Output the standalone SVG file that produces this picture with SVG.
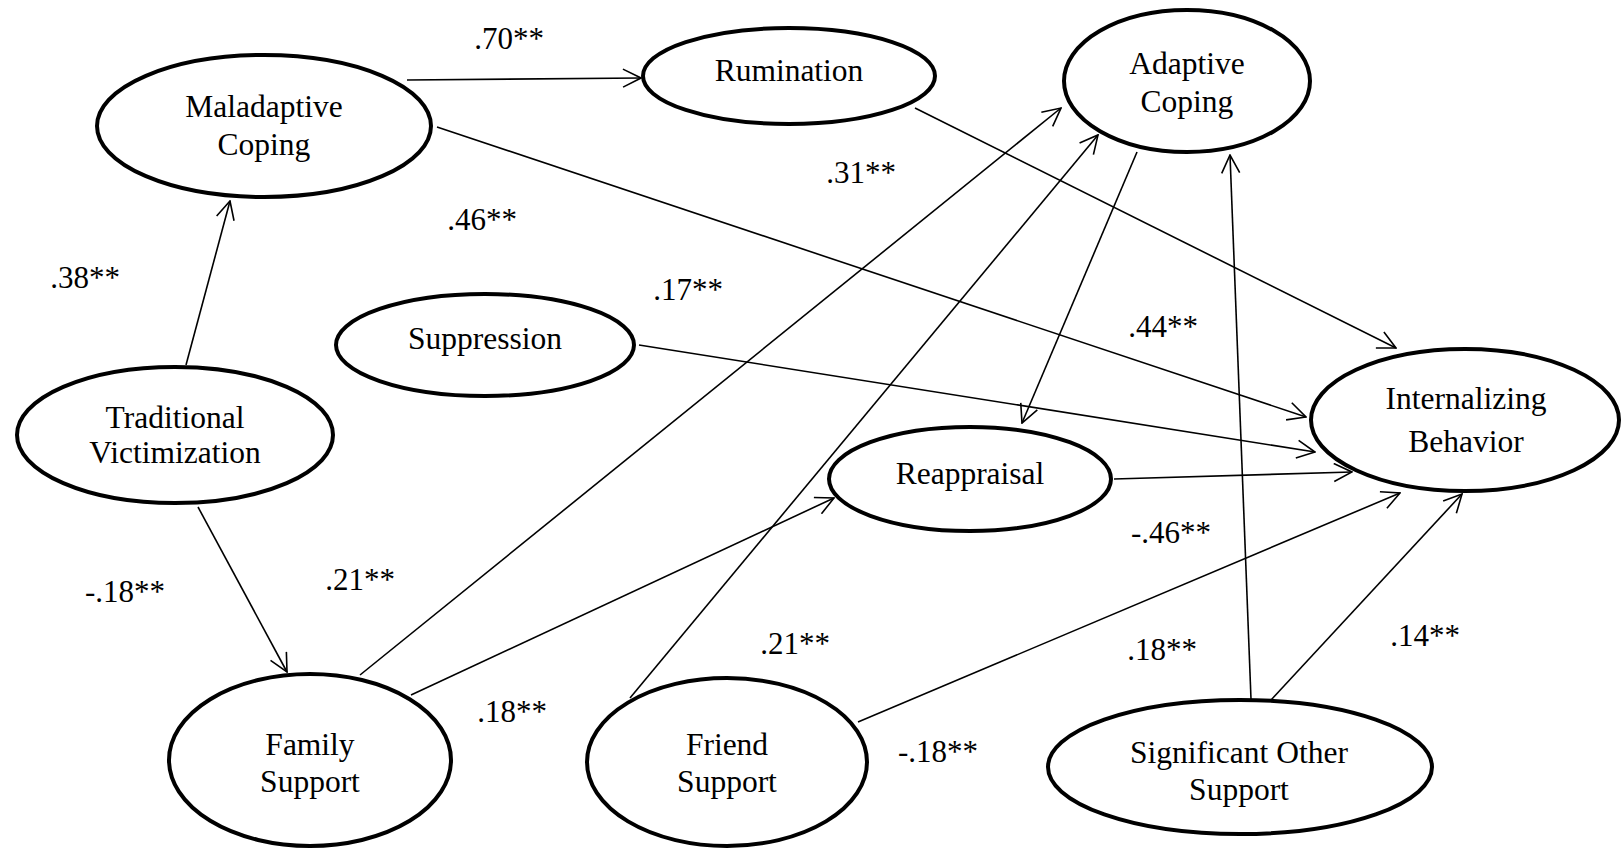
<svg xmlns="http://www.w3.org/2000/svg" width="1624" height="850" viewBox="0 0 1624 850">
  <style>
    .node { fill: #ffffff; stroke: #000000; stroke-width: 4; }
    .name { font-family: "Liberation Serif", "Times New Roman", serif; font-size: 31.5px; fill: #000000; text-anchor: middle; }
    .coef { font-family: "Liberation Serif", "Times New Roman", serif; font-size: 31px; fill: #000000; text-anchor: middle; }
    .path { stroke: #000000; stroke-width: 1.6; fill: none; marker-end: url(#arrow); }
  </style>
  <defs>
    <marker id="arrow" viewBox="0 0 20 20" refX="19" refY="10" markerWidth="20" markerHeight="20" markerUnits="userSpaceOnUse" orient="auto">
      <path d="M1,1 L19,10 L1,19" fill="none" stroke="#000000" stroke-width="1.6"/>
    </marker>
  </defs>
  <rect width="1624" height="850" fill="#ffffff"/>

  <!-- paths between constructs -->
  <g id="connectors">
    <line class="path" x1="186" y1="365" x2="230" y2="201"/>
    <line class="path" x1="407" y1="80" x2="641" y2="78"/>
    <line class="path" x1="437" y1="127" x2="1306" y2="417"/>
    <line class="path" x1="915" y1="108" x2="1396" y2="348"/>
    <line class="path" x1="639" y1="345" x2="1315" y2="452"/>
    <line class="path" x1="1114" y1="479" x2="1352" y2="472"/>
    <line class="path" x1="198" y1="507" x2="287" y2="672"/>
    <line class="path" x1="360" y1="675" x2="1061" y2="108"/>
    <line class="path" x1="411" y1="695" x2="834" y2="498"/>
    <line class="path" x1="630" y1="698" x2="1098" y2="135"/>
    <line class="path" x1="1137" y1="152" x2="1022" y2="423"/>
    <line class="path" x1="1251" y1="699" x2="1230" y2="155"/>
    <line class="path" x1="858" y1="722" x2="1400" y2="493"/>
    <line class="path" x1="1271" y1="700" x2="1462" y2="494"/>
  </g>

  <!-- path coefficients -->
  <g id="coefficients">
    <text class="coef" x="509" y="49">.70**</text>
    <text class="coef" x="85" y="288">.38**</text>
    <text class="coef" x="482" y="230">.46**</text>
    <text class="coef" x="688" y="300">.17**</text>
    <text class="coef" x="861" y="183">.31**</text>
    <text class="coef" x="1163" y="337">.44**</text>
    <text class="coef" x="125" y="602">-.18**</text>
    <text class="coef" x="360" y="590">.21**</text>
    <text class="coef" x="512" y="722">.18**</text>
    <text class="coef" x="795" y="654">.21**</text>
    <text class="coef" x="1171" y="543">-.46**</text>
    <text class="coef" x="1162" y="660">.18**</text>
    <text class="coef" x="938" y="762">-.18**</text>
    <text class="coef" x="1425" y="646">.14**</text>
  </g>

  <g id="maladaptive-coping">
    <ellipse class="node" cx="264" cy="126" rx="167" ry="71"/>
    <text class="name" x="264" y="117">Maladaptive</text>
    <text class="name" x="264" y="155">Coping</text>
  </g>

  <g id="rumination">
    <ellipse class="node" cx="789" cy="76" rx="146" ry="48"/>
    <text class="name" x="789" y="81">Rumination</text>
  </g>

  <g id="adaptive-coping">
    <ellipse class="node" cx="1187" cy="81" rx="123" ry="71"/>
    <text class="name" x="1187" y="74">Adaptive</text>
    <text class="name" x="1187" y="112">Coping</text>
  </g>

  <g id="suppression">
    <ellipse class="node" cx="485" cy="345" rx="149" ry="51"/>
    <text class="name" x="485" y="349">Suppression</text>
  </g>

  <g id="traditional-victimization">
    <ellipse class="node" cx="175" cy="435" rx="158" ry="68"/>
    <text class="name" x="175" y="428">Traditional</text>
    <text class="name" x="175" y="463">Victimization</text>
  </g>

  <g id="internalizing-behavior">
    <ellipse class="node" cx="1465" cy="420" rx="154" ry="71"/>
    <text class="name" x="1466" y="409">Internalizing</text>
    <text class="name" x="1466" y="452">Behavior</text>
  </g>

  <g id="reappraisal">
    <ellipse class="node" cx="970" cy="479" rx="141" ry="52"/>
    <text class="name" x="970" y="484">Reappraisal</text>
  </g>

  <g id="family-support">
    <ellipse class="node" cx="310" cy="760" rx="141" ry="86"/>
    <text class="name" x="310" y="755">Family</text>
    <text class="name" x="310" y="792">Support</text>
  </g>

  <g id="friend-support">
    <ellipse class="node" cx="727" cy="762" rx="140" ry="84"/>
    <text class="name" x="727" y="755">Friend</text>
    <text class="name" x="727" y="792">Support</text>
  </g>

  <g id="significant-other-support">
    <ellipse class="node" cx="1240" cy="767" rx="192" ry="67"/>
    <text class="name" x="1239" y="763">Significant Other</text>
    <text class="name" x="1239" y="800">Support</text>
  </g>
</svg>
